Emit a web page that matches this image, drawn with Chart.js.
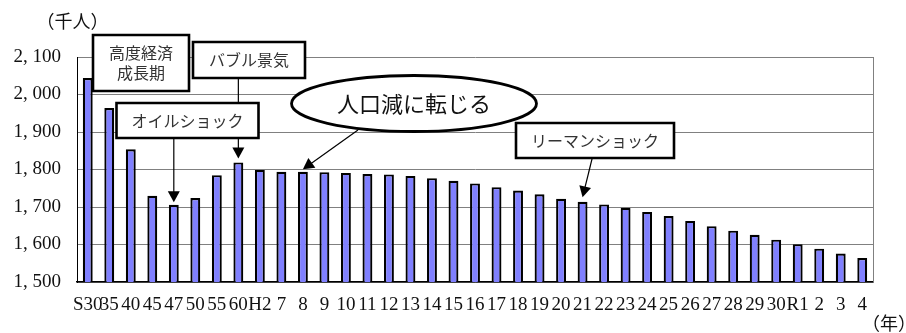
<!DOCTYPE html>
<html>
<head>
<meta charset="utf-8">
<script src="https://cdn.jsdelivr.net/npm/chart.js@4.4.0/dist/chart.umd.min.js"></script>
<style>
  html, body { margin: 0; padding: 0; background: #fff; }
</style>
</head>
<body>
<canvas id="c" width="906" height="333"></canvas>
<script>
// 年次（昭和・平成・令和）
const years = ['S30','35','40','45','47','50','55','60','H2','7','8','9','10','11','12','13','14','15','16','17','18','19','20','21','22','23','24','25','26','27','28','29','30','R1','2','3','4'];
// 人口（千人）
const population = [2044,1964,1854,1730,1706,1724,1785,1819,1799,1794,1794,1793,1791,1788,1787,1783,1777,1770,1763,1753,1744,1734,1722,1714,1707,1698,1687,1676,1663,1649,1637,1626,1613,1601,1589,1576,1564];
// 縦軸の範囲と目盛り間隔
const yMin = 1500;
const yMax = 2100;
const yStep = 100;

const serif = '"Liberation Serif", "DejaVu Serif", serif';
const jp = '"Noto Sans CJK JP", "Noto Sans CJK SC", sans-serif';

// 吹き出し（bar は矢印が指す年次の位置）
const notes = [
  { shape: 'box', lines: ['高度経済', '成長期'], x: 93, y: 35, w: 96, h: 56, size: 16, lh: 20 },
  { shape: 'box', lines: ['バブル景気'], x: 193, y: 42, w: 112, h: 36, size: 16, bar: 7, from: [null, 78], gap: 4 },
  { shape: 'box', lines: ['オイルショック'], x: 116.5, y: 103, w: 142, h: 35, size: 16, bar: 4, from: [null, 137], gap: 2.5 },
  { shape: 'ellipse', lines: ['人口減に転じる'], cx: 414, cy: 103.5, rx: 122.5, ry: 28, size: 22, bar: 10, from: [358, 130], gap: 2.5 },
  { shape: 'box', lines: ['リーマンショック'], x: 516, y: 123, w: 158, h: 35, size: 16, bar: 23, from: [592.5, 157], gap: 4.5 }
];

function arrow(ctx, x0, y0, x1, y1) {
  const ang = Math.atan2(y1 - y0, x1 - x0);
  const len = 11, half = 6;
  ctx.beginPath();
  ctx.moveTo(x0, y0);
  ctx.lineTo(x1 - Math.cos(ang) * len * 0.8, y1 - Math.sin(ang) * len * 0.8);
  ctx.strokeStyle = '#000';
  ctx.lineWidth = 1.2;
  ctx.stroke();
  ctx.beginPath();
  ctx.moveTo(x1, y1);
  ctx.lineTo(x1 - Math.cos(ang) * len + Math.sin(ang) * half, y1 - Math.sin(ang) * len - Math.cos(ang) * half);
  ctx.lineTo(x1 - Math.cos(ang) * len - Math.sin(ang) * half, y1 - Math.sin(ang) * len + Math.cos(ang) * half);
  ctx.closePath();
  ctx.fillStyle = '#000';
  ctx.fill();
}

const decorations = {
  id: 'decorations',
  beforeDatasetsDraw(chart) {
    const { ctx, chartArea: a } = chart;
    ctx.save();
    ctx.strokeStyle = '#808080';
    ctx.lineWidth = 1;
    ctx.beginPath();
    ctx.moveTo(Math.round(a.right) + 0.5, a.top);
    ctx.lineTo(Math.round(a.right) + 0.5, a.bottom);
    ctx.stroke();
    ctx.restore();
  },
  afterDraw(chart) {
    const { ctx } = chart;
    const bars = chart.getDatasetMeta(0).data;
    ctx.save();
    // 矢印（吹き出しの下に描く）
    notes.forEach(n => {
      if (n.bar === undefined) return;
      const b = bars[n.bar];
      const tx = b.x, ty = b.y - n.gap;
      const fx = n.from[0] === null ? tx : n.from[0];
      arrow(ctx, fx, n.from[1], tx, ty);
    });
    // 吹き出し本体と文字
    notes.forEach(n => {
      ctx.fillStyle = '#fff';
      ctx.strokeStyle = '#000';
      ctx.beginPath();
      let cx, cy;
      if (n.shape === 'box') {
        ctx.lineWidth = 2.6;
        ctx.rect(n.x, n.y, n.w, n.h);
        cx = n.x + n.w / 2; cy = n.y + n.h / 2;
      } else {
        ctx.lineWidth = 2.8;
        ctx.ellipse(n.cx, n.cy, n.rx, n.ry, 0, 0, Math.PI * 2);
        cx = n.cx; cy = n.cy;
      }
      ctx.fill();
      ctx.stroke();
      ctx.fillStyle = n.shape === 'box' ? '#333' : '#111';
      ctx.font = n.size + 'px ' + jp;
      ctx.textAlign = 'center';
      ctx.textBaseline = 'middle';
      const lh = n.lh || n.size;
      n.lines.forEach((t, i) => {
        ctx.fillText(t, cx, cy + (i - (n.lines.length - 1) / 2) * lh);
      });
    });
    // 単位
    ctx.fillStyle = '#111';
    ctx.font = '18px ' + jp;
    ctx.textAlign = 'center';
    ctx.textBaseline = 'middle';
    ctx.fillText('（千人）', 72.5, 21.5);
    ctx.fillText('（年）', 889, 323);
    ctx.restore();
  }
};

new Chart(document.getElementById('c'), {
  type: 'bar',
  data: {
    labels: years,
    datasets: [{
      data: population,
      backgroundColor: '#8080ff',
      borderColor: '#000',
      borderWidth: 2.2,
      categoryPercentage: 1,
      barPercentage: 0.46
    }]
  },
  options: {
    responsive: false,
    animation: false,
    devicePixelRatio: 1,
    layout: { padding: { top: 57, right: 33, bottom: 0, left: 0 } },
    plugins: { legend: { display: false }, tooltip: { enabled: false } },
    scales: {
      x: {
        grid: { display: false, drawTicks: false },
        border: { display: true, color: '#000', width: 1.5 },
        ticks: {
          autoSkip: false, maxRotation: 0, minRotation: 0, padding: 12,
          color: '#111', font: { family: serif, size: 19 }
        },
        afterFit(s) { s.height = 51; }
      },
      y: {
        min: yMin, max: yMax,
        grid: { color: '#808080', lineWidth: 1, drawTicks: false },
        border: { display: true, color: '#000', width: 1 },
        ticks: {
          stepSize: yStep, padding: 16, color: '#111',
          font: { family: serif, size: 19 },
          callback: v => v.toLocaleString('en-US').replace(',', ', ')
        },
        afterFit(s) { s.width = 77; }
      }
    }
  },
  plugins: [decorations]
});
</script>
</body>
</html>
